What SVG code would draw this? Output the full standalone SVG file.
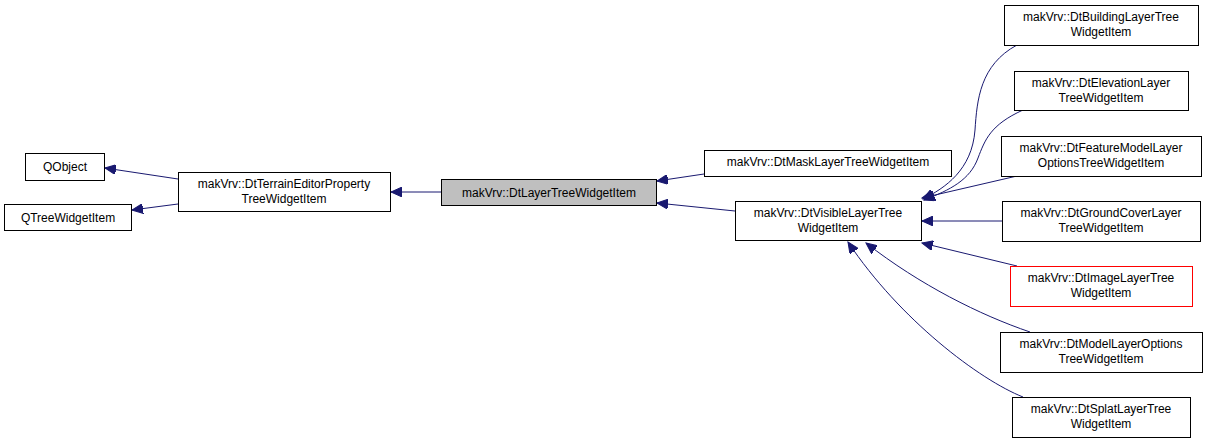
<svg xmlns="http://www.w3.org/2000/svg" width="1208" height="443" viewBox="0 0 1208 443">
<style>
rect{fill:#fff;stroke:#000;stroke-width:1}
text{font-family:"Liberation Sans",Arial,sans-serif;font-size:12px;text-anchor:middle;fill:#000}
.e{fill:none;stroke:#191970;stroke-width:1;marker-end:url(#a)}
</style>
<defs><marker id="a" markerUnits="userSpaceOnUse" markerWidth="12" markerHeight="10" refX="11" refY="5" orient="auto"><path d="M0,0L11,5L0,10z" fill="#191970" stroke="#191970"/></marker></defs>
<rect width="1208" height="443" style="stroke:none"/>
<g id="edges">
<path class="e" d="M178,179L105,168"/>
<path class="e" d="M178,204L132,210"/>
<path class="e" d="M441,192L391,192"/>
<path class="e" d="M704,174L657,181"/>
<path class="e" d="M735,211L657,203"/>
<path class="e" d="M1017,45C980,65 977,100 975,130C972,170 945,188 923,199"/>
<path class="e" d="M1023,110C990,125 985,140 978,158C970,180 950,190 924,200"/>
<path class="e" d="M1017,176L922,198"/>
<path class="e" d="M1002,221L922,221"/>
<path class="e" d="M1017,266L922,243"/>
<path class="e" d="M1030,332C980,315 920,285 866,243"/>
<path class="e" d="M1023,397C980,380 900,320 848,242"/>
</g>
<g id="n1"><rect x="25.5" y="153.5" width="79" height="27"/><text x="65" y="171">QObject</text></g>
<g id="n2"><rect x="4.5" y="204.5" width="127" height="26"/><text x="68" y="222">QTreeWidgetItem</text></g>
<g id="n3"><rect x="178.5" y="172.5" width="212" height="39"/><text x="284" y="188">makVrv::DtTerrainEditorProperty</text><text x="284" y="203">TreeWidgetItem</text></g>
<g id="n4"><rect x="441.5" y="179.5" width="215" height="26" style="fill:#bfbfbf"/><text x="549" y="197">makVrv::DtLayerTreeWidgetItem</text></g>
<g id="n5"><rect x="704.5" y="150.5" width="247" height="26"/><text x="828" y="166">makVrv::DtMaskLayerTreeWidgetItem</text></g>
<g id="n6"><rect x="735.5" y="201.5" width="186" height="39"/><text x="828" y="217">makVrv::DtVisibleLayerTree</text><text x="828" y="232">WidgetItem</text></g>
<g id="n7"><rect x="1004.5" y="5.5" width="194" height="40"/><text x="1101" y="21">makVrv::DtBuildingLayerTree</text><text x="1101" y="36">WidgetItem</text></g>
<g id="n8"><rect x="1014.5" y="71.5" width="174" height="39"/><text x="1101" y="87">makVrv::DtElevationLayer</text><text x="1101" y="102">TreeWidgetItem</text></g>
<g id="n9"><rect x="1001.5" y="136.5" width="200" height="40"/><text x="1101" y="152">makVrv::DtFeatureModelLayer</text><text x="1101" y="167">OptionsTreeWidgetItem</text></g>
<g id="n10"><rect x="1002.5" y="201.5" width="198" height="40"/><text x="1101" y="217">makVrv::DtGroundCoverLayer</text><text x="1101" y="232">TreeWidgetItem</text></g>
<g id="n11"><rect x="1010.5" y="266.5" width="182" height="40" style="stroke:#f00"/><text x="1101" y="282">makVrv::DtImageLayerTree</text><text x="1101" y="297">WidgetItem</text></g>
<g id="n12"><rect x="1000.5" y="332.5" width="202" height="40"/><text x="1101" y="348">makVrv::DtModelLayerOptions</text><text x="1101" y="363">TreeWidgetItem</text></g>
<g id="n13"><rect x="1012.5" y="397.5" width="178" height="40"/><text x="1101" y="413">makVrv::DtSplatLayerTree</text><text x="1101" y="428">WidgetItem</text></g>
</svg>
